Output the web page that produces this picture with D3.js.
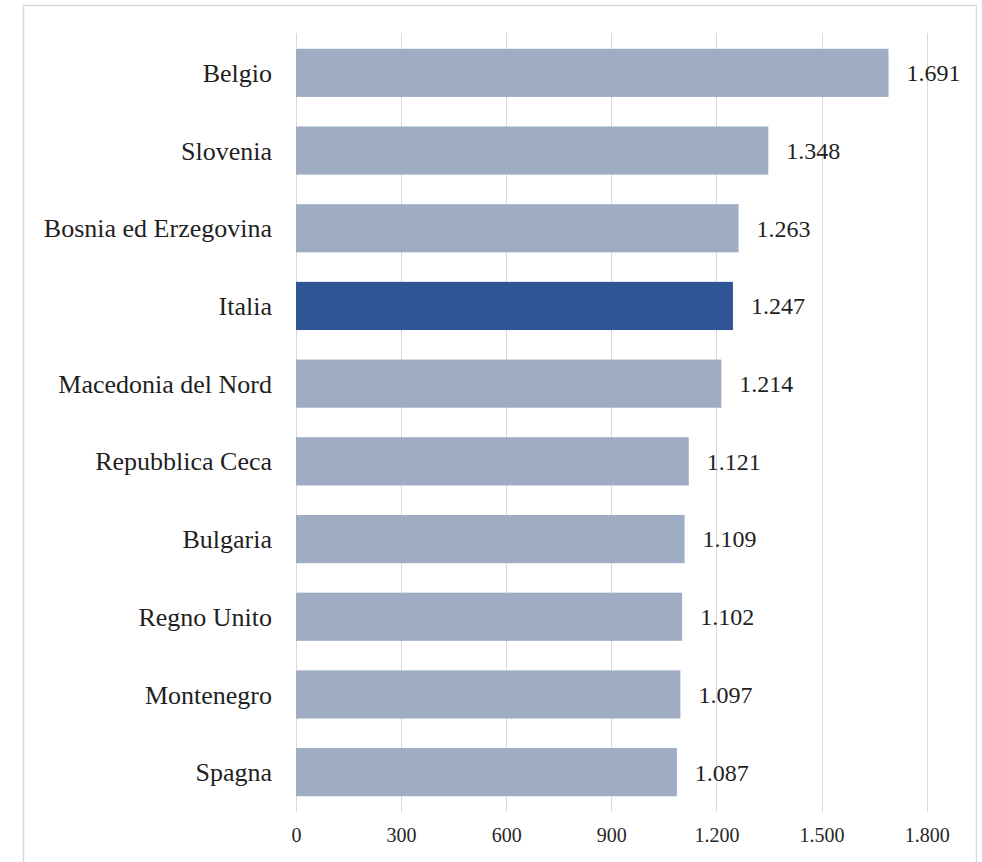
<!DOCTYPE html>
<html><head><meta charset="utf-8">
<script src="https://cdn.jsdelivr.net/npm/d3@7"></script>
<style>html,body{margin:0;padding:0;background:#fff;}svg{display:block;}</style>
</head><body>
<svg id="c" width="982" height="862"></svg>
<script>
const categories = ["Belgio","Slovenia","Bosnia ed Erzegovina","Italia","Macedonia del Nord","Repubblica Ceca","Bulgaria","Regno Unito","Montenegro","Spagna"];
const values = [1691,1348,1263,1247,1214,1121,1109,1102,1097,1087];
const highlighted = ["Italia"];
const xTicks = [0,300,600,900,1200,1500,1800];

const fmt = v => d3.format(",")(v).replace(/,/g,".");
const svg = d3.select("#c");
const font = "'Liberation Serif','Times New Roman',serif";

svg.append("rect").attr("x",23.5).attr("y",5.5).attr("width",953).attr("height",900)
  .attr("fill","#fff").attr("stroke","#d9d9d9").attr("stroke-width",1.5);

const x = d3.scaleLinear().domain([0,1800]).range([296,926.7]);
const y = d3.scaleBand().domain(categories).range([34,811]).paddingInner(0.38).paddingOuter(0.19);

// gridlines
svg.append("g").selectAll("line").data(xTicks).join("line")
  .attr("x1",d=>Math.round(x(d))+0.5).attr("x2",d=>Math.round(x(d))+0.5)
  .attr("y1",33).attr("y2",812).attr("stroke","#d9d9d9").attr("stroke-width",1);

// x axis labels
const ax = svg.append("g").attr("transform","translate(0,835)")
  .call(d3.axisBottom(x).tickValues(xTicks).tickFormat(fmt).tickSize(0).tickPadding(0));
ax.select(".domain").remove();
ax.selectAll("text").attr("font-family",font).attr("font-size",20).attr("fill","#262626")
  .attr("dy","0.35em");

const data = categories.map((c,i)=>({c, v: values[i]}));

svg.append("g").selectAll("rect").data(data).join("rect")
  .attr("x",x(0)).attr("y",d=>y(d.c)).attr("width",d=>x(d.v)-x(0)).attr("height",y.bandwidth())
  .attr("fill",d=>highlighted.includes(d.c)?"#2F5597":"#9FADC4");

// category labels
svg.append("g").selectAll("text").data(data).join("text")
  .attr("x",272).attr("y",d=>y(d.c)+y.bandwidth()/2).attr("dy","0.35em")
  .attr("text-anchor","end").attr("font-family",font).attr("font-size",26).attr("fill","#1f1f1f")
  .text(d=>d.c);

// value labels
svg.append("g").selectAll("text").data(data).join("text")
  .attr("x",d=>x(d.v)+18).attr("y",d=>y(d.c)+y.bandwidth()/2).attr("dy","0.35em")
  .attr("font-family",font).attr("font-size",24).attr("fill","#1f1f1f")
  .text(d=>fmt(d.v));
</script>
</body></html>
